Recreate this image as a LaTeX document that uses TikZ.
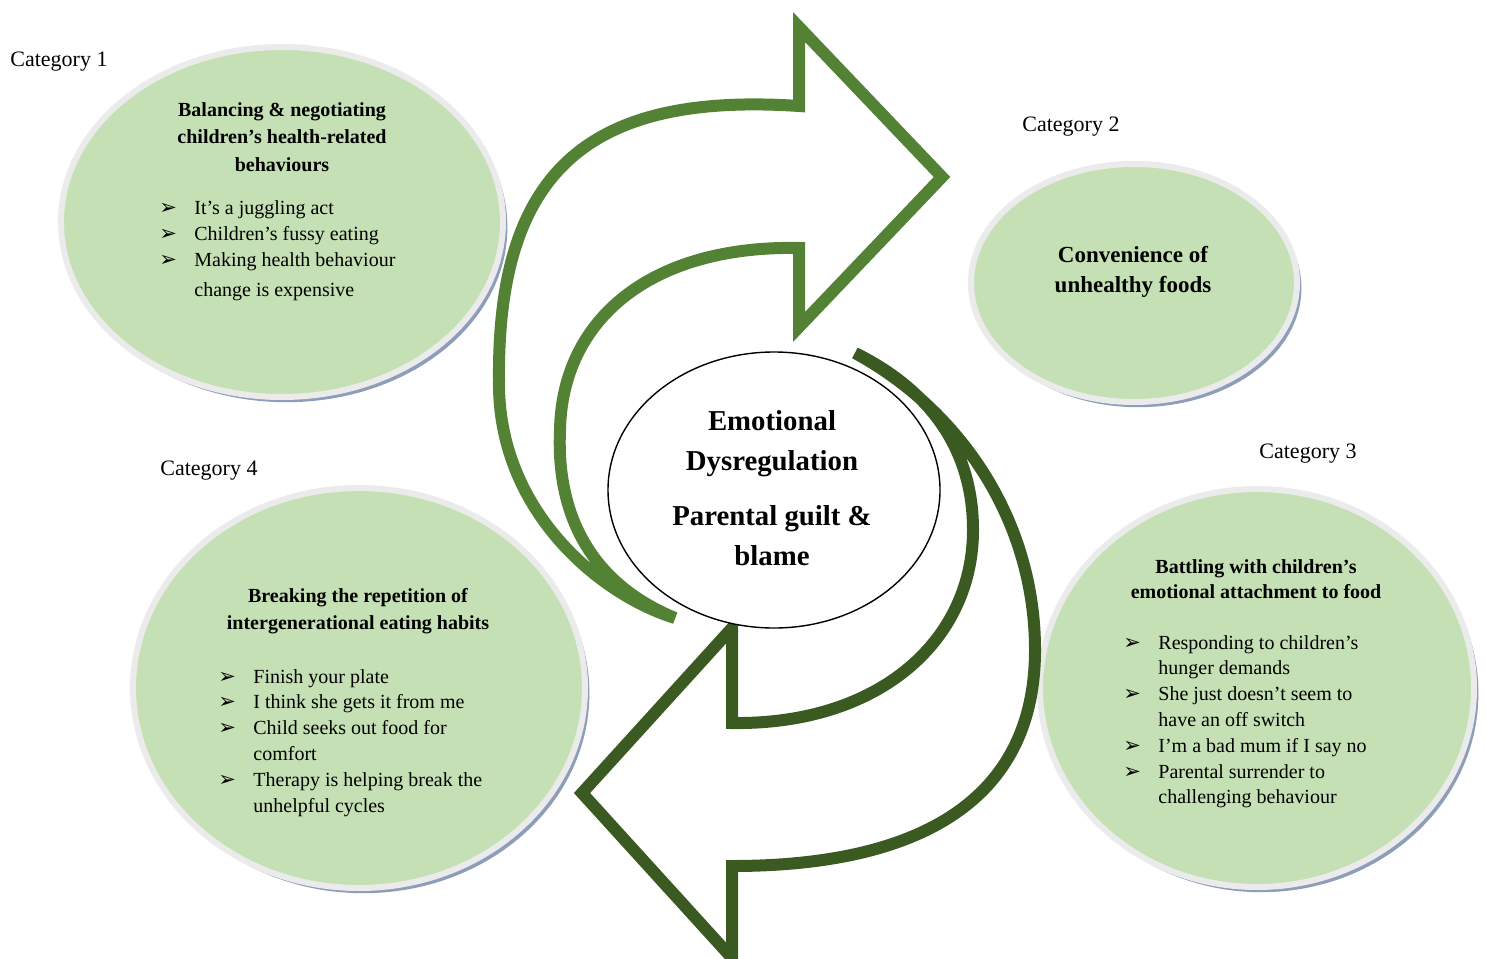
\documentclass[tikz,border=0pt]{standalone}
\usepackage{fontspec}
\setmainfont{Liberation Serif}
\newfontfamily\dingfont{DejaVu Sans}
\usetikzlibrary{shapes.geometric,shadows}

\definecolor{leafgreen}{HTML}{C5E0B4}
\definecolor{arrowlight}{HTML}{548235}
\definecolor{arrowdark}{HTML}{3A5A22}
\definecolor{ringgrey}{HTML}{EBEBEB}
\definecolor{shadowblue}{HTML}{8E9DBA}

% arrowhead bullet
\newcommand{\bul}{{\dingfont\fontsize{10.5}{10}\selectfont\char"27A2}}

\begin{document}
\begin{tikzpicture}[x=0.5pt,y=-0.5pt,
  catbubble/.style={ellipse, inner sep=0pt, fill=leafgreen, draw=ringgrey, line width=3pt,
    general shadow={fill=shadowblue, shadow xshift=2.2pt, shadow yshift=-2.6pt}},
  corebubble/.style={ellipse, inner sep=0pt, fill=white, draw=black, line width=0.7pt},
  cattitle/.style={inner sep=0pt, anchor=base, font=\bfseries\fontsize{10}{13.5}\selectfont},
  catitems/.style={inner sep=0pt, anchor=base west, font=\fontsize{10}{12.9}\selectfont},
  catlabel/.style={inner sep=0pt, anchor=base west, font=\fontsize{11}{13}\selectfont},
  bigarrow/.style={line width=6pt, line join=miter}
]
\useasboundingbox (0,0) rectangle (1486,958);

% category bubbles
\node[catbubble, minimum width=221pt, minimum height=175pt] (cat1) at (282,222) {};
\node[catbubble, minimum width=163pt, minimum height=119pt] (cat2) at (1134,283) {};
\node[catbubble, minimum width=217pt, minimum height=199pt] (cat3) at (1257,688) {};
\node[catbubble, minimum width=226pt, minimum height=200pt] (cat4) at (359,688) {};

% upper circular arrow (outline only)
\draw[bigarrow, arrowlight]
  (675,618) .. controls (600,595) and (497,510) .. (499,380)
            .. controls (497,170) and (590,92) .. (799,106)
  -- (799,27) -- (942,177) -- (799,327) -- (799,248)
            .. controls (650,245) and (562,320) .. (560,430)
            .. controls (556,520) and (595,585) .. (675,618)
  -- cycle;

% lower circular arrow (outline only)
\draw[bigarrow, arrowdark]
  (855,353) .. controls (960,410) and (1035,520) .. (1035,650)
            .. controls (1035,800) and (920,866) .. (732,866)
  -- (732,958) -- (582,793) -- (732,628) -- (732,723)
            .. controls (880,725) and (973,640) .. (973,530)
            .. controls (973,440) and (920,385) .. (855,353)
  -- cycle;

% central bubble
\node[corebubble, minimum width=166pt, minimum height=138pt] (core) at (774,490) {};
\node[inner sep=0pt, anchor=base, font=\bfseries\fontsize{14.4}{20}\selectfont] (coretext) at (772,430)
  {\begin{tabular}[t]{@{}c@{}}Emotional\\ Dysregulation\\[7.5pt] Parental guilt \&\\ blame\end{tabular}};

% category labels
\node[catlabel] (lab1) at (10,66) {Category 1};
\node[catlabel] (lab2) at (1022,131) {Category 2};
\node[catlabel] (lab3) at (1259,458) {Category 3};
\node[catlabel] (lab4) at (160,475) {Category 4};

% category 1
\node[cattitle, font=\bfseries\fontsize{10}{13.75}\selectfont] (title1) at (282,116)
  {\begin{tabular}[t]{@{}c@{}}Balancing \& negotiating\\ children’s health-related\\ behaviours\end{tabular}};
\node[catitems, font=\fontsize{10}{13}\selectfont] (items1) at (159,214)
  {\begin{tabular}[t]{@{}p{17.5pt}@{}l@{}}
   \bul & It’s a juggling act\\
   \bul & Children’s fussy eating\\
   \bul & Making health behaviour\\[2pt]
        & change is expensive
   \end{tabular}};

% category 2
\node[cattitle, font=\bfseries\fontsize{11.5}{15}\selectfont] (title2) at (1133,262)
  {\begin{tabular}[t]{@{}c@{}}Convenience of\\ unhealthy foods\end{tabular}};

% category 3
\node[cattitle, font=\bfseries\fontsize{10}{12.5}\selectfont] (title3) at (1256,573)
  {\begin{tabular}[t]{@{}c@{}}Battling with children’s\\ emotional attachment to food\end{tabular}};
\node[catitems] (items3) at (1123,649)
  {\begin{tabular}[t]{@{}p{17.5pt}@{}l@{}}
   \bul & Responding to children’s\\
        & hunger demands\\
   \bul & She just doesn’t seem to\\
        & have an off switch\\
   \bul & I’m a bad mum if I say no\\
   \bul & Parental surrender to\\
        & challenging behaviour
   \end{tabular}};

% category 4
\node[cattitle] (title4) at (358,602)
  {\begin{tabular}[t]{@{}c@{}}Breaking the repetition of\\ intergenerational eating habits\end{tabular}};
\node[catitems] (items4) at (218,683)
  {\begin{tabular}[t]{@{}p{17.5pt}@{}l@{}}
   \bul & Finish your plate\\
   \bul & I think she gets it from me\\
   \bul & Child seeks out food for\\
        & comfort\\
   \bul & Therapy is helping break the\\
        & unhelpful cycles
   \end{tabular}};
\end{tikzpicture}
\end{document}
